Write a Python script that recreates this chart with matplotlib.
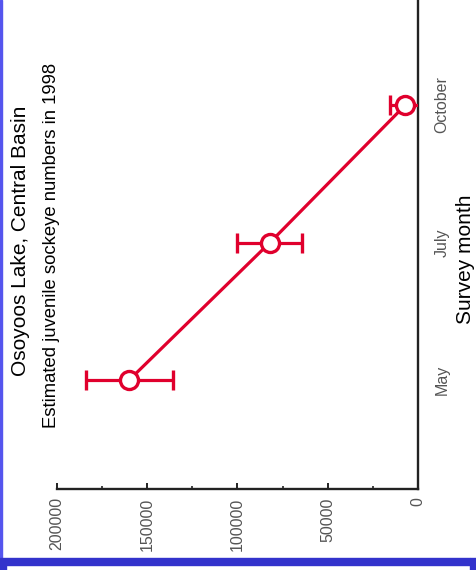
import matplotlib
matplotlib.use("Agg")
import matplotlib.pyplot as plt
from matplotlib.patches import Rectangle
from matplotlib.ticker import MultipleLocator

months = ["May", "July", "October"]
estimates = [160000, 82000, 7000]
errors = [24000, 18000, 8500]
value_ticks = [0, 50000, 100000, 150000, 200000]
value_tick_labels = ["0", "50000", "100000", "150000", "200000"]

RED = "#e0002d"
BLUE = "#3333cc"

W, H = 477, 570
fig = plt.figure(figsize=(W / 100, H / 100), dpi=100)
plt.rcParams['font.family'] = ['Liberation Sans', 'DejaVu Sans']

ax_left, ax_right, ax_bottom_px = 57, 418, 489
ax = fig.add_axes([ax_left / W, 1 - ax_bottom_px / H, (ax_right - ax_left) / W, ax_bottom_px / H])

pos = list(range(1, len(months) + 1))
ax.errorbar(estimates, pos, xerr=errors, color=RED, lw=2.3, elinewidth=2.3,
            capsize=7, capthick=2.3, marker='o', ms=13, mew=2.4,
            mfc='white', mec=RED, zorder=3)

ax.set_xlim(200000, 0)
ax.set_ylim(0.207, 3.764)

for s in ['top', 'left']:
    ax.spines[s].set_visible(False)
for s in ['bottom', 'right']:
    ax.spines[s].set_linewidth(1.7)
    ax.spines[s].set_color('#222222')

ax.set_xticks(value_ticks)
ax.set_xticklabels(value_tick_labels, rotation=90, fontsize=11.5, color='#555555')
ax.xaxis.set_minor_locator(MultipleLocator(25000))
ax.tick_params(axis='x', which='major', direction='in', length=4, width=1.4, pad=6, colors='#222222', labelcolor='#555555')
ax.tick_params(axis='x', which='minor', direction='in', length=2, width=1.2, colors='#222222')

ax.set_yticks(pos)
ax.set_yticklabels(months, rotation=90, fontsize=11.5, color='#555555', va='center')
ax.yaxis.tick_right()
ax.tick_params(axis='y', which='both', length=0, pad=12, labelcolor='#555555', left=False, labelleft=False, right=True, labelright=True)

fig.text(21 / W, 1 - 241 / H, "Osoyoos Lake, Central Basin", rotation=90,
         ha='center', va='center', fontsize=15)
fig.text(52 / W, 1 - 245 / H, "Estimated juvenile sockeye numbers in 1998", rotation=90,
         ha='center', va='center', fontsize=13.3)
fig.text(466 / W, 1 - 259 / H, "Survey month", rotation=90,
         ha='center', va='center', fontsize=15)

# blue frame pieces
fig.patches.append(Rectangle((0, 0), 2 / W, 1, transform=fig.transFigure, color='#5555ee', zorder=5))
fig.patches.append(Rectangle((0, 1 - 565 / H), 470 / W, 7 / H, transform=fig.transFigure, color=BLUE, zorder=5))
fig.patches.append(Rectangle((470 / W, 0), 7 / W, 12 / H, transform=fig.transFigure, color=BLUE, zorder=5))
fig.patches.append(Rectangle((0, 0), 6 / W, 8 / H, transform=fig.transFigure, color=BLUE, zorder=5))

fig.savefig("out.png", dpi=100)
